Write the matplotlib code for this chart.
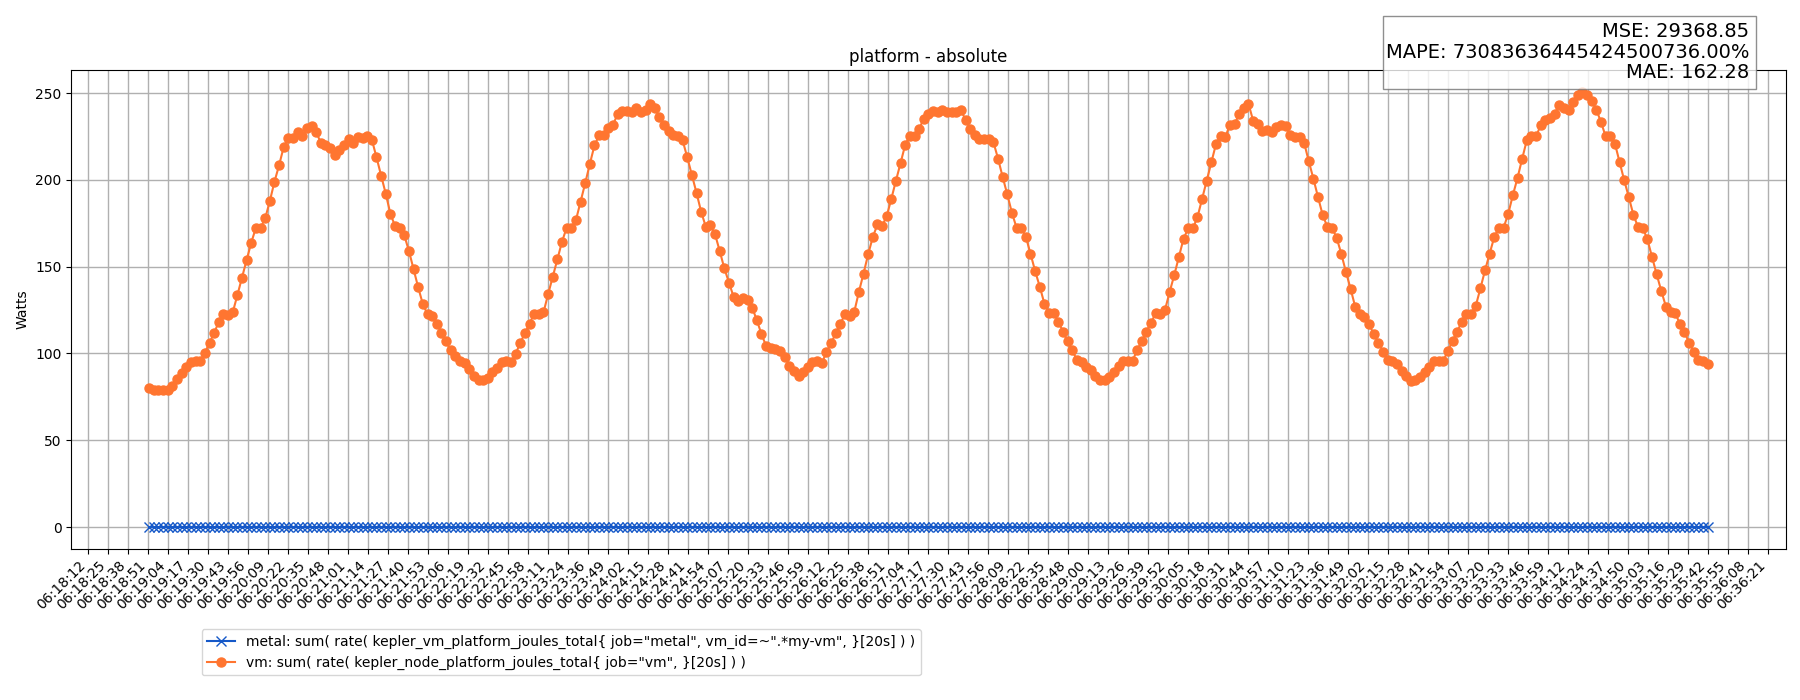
import matplotlib
matplotlib.use("Agg")
import matplotlib.pyplot as plt
import matplotlib.dates as mdates
from matplotlib.patches import Rectangle
import numpy as np
import pandas as pd

# ---------------- data ----------------
day = "2024-01-01 "
start_time = "06:18:51.6"
end_time = "06:35:41.6"

vm_values = [
    80.1, 79.0, 78.9, 78.9, 79.2, 81.5, 85.0, 88.5, 92.0, 95.0, 95.5, 95.5, 100.5, 106.0, 112.0, 118.0,
    122.6, 122.0, 123.6, 133.5, 143.7, 153.8, 163.8, 172.4, 172.4, 177.8, 187.7, 198.9, 208.4, 219.0,
    224.0, 224.0, 227.6, 225.0, 229.9, 230.8, 227.6, 221.3, 220.0, 218.4, 214.6, 217.4, 220.0, 223.8,
    221.3, 224.5, 224.1, 225.5, 223.2, 213.0, 202.5, 192.0, 180.5, 173.4, 172.4, 168.0, 159.0, 148.5,
    138.0, 128.4, 122.6, 121.6, 117.2, 112.0, 106.9, 101.9,
    98.7, 95.4, 94.3, 91.0, 87.2, 84.7, 84.7, 85.8, 89.1, 91.6, 94.8, 95.8, 94.8, 99.6, 106.3, 111.5,
    117.2, 123.0, 122.6, 123.6, 134.1, 144.1, 154.2, 164.4, 172.4, 172.4, 176.8, 187.4, 198.1, 209.2,
    219.9, 225.7, 225.7, 229.9, 231.8, 237.9, 239.5, 239.5, 238.9, 241.4, 239.1, 240.4, 243.7, 241.4,
    236.0, 231.8, 228.4, 226.1, 225.1, 222.8, 213.0, 202.7, 192.5, 181.6, 173.0, 173.9, 168.6, 159.0,
    149.0, 140.8, 132.6, 130.3, 131.8, 130.7, 126.4, 119.2, 111.1, 104.4, 103.1,
    102.5, 101.5, 98.1, 92.9, 89.7, 87.2, 89.5, 92.3, 94.8, 95.4, 94.4, 100.6, 105.9, 111.5, 117.2,
    122.6, 121.3, 123.9, 135.4, 146.0, 157.1, 167.0, 174.3, 173.4, 179.1, 189.1, 199.6, 209.8, 220.3,
    225.5, 225.1, 229.5, 235.2, 237.9, 239.5, 239.1, 240.0, 239.1, 239.1, 239.1, 240.0, 234.7, 229.5,
    226.1, 223.8, 223.8, 223.8, 221.8, 212.3, 201.7, 191.6, 181.0, 172.4, 172.4, 167.2, 157.5, 147.5,
    138.5, 128.7, 123.2, 123.2, 118.4, 112.6, 106.9, 101.9, 96.2, 94.8, 92.3,
    90.4, 87.2, 84.7, 84.7, 86.2, 89.1, 92.5, 95.8, 95.8, 95.8, 101.9, 107.3, 112.6, 117.8, 123.2,
    122.6, 125.1, 135.4, 145.2, 155.6, 166.1, 172.0, 172.0, 178.5, 189.1, 199.6, 210.3, 220.7, 225.1,
    224.7, 231.8, 232.2, 237.9, 241.4, 243.9, 234.1, 232.2, 228.0, 228.9, 227.6, 230.5, 231.8, 230.8,
    226.1, 224.7, 224.7, 221.3, 210.7, 200.6, 190.0, 179.7, 173.0, 172.4, 166.7, 157.5, 147.1, 137.4,
    127.0, 122.6, 121.1, 116.9, 111.1, 106.3, 101.1, 96.4, 95.4, 93.9, 90.0,
    87.2, 84.3, 84.7, 86.2, 89.5, 92.0, 95.4, 95.4, 95.8, 101.5, 107.3, 112.6, 118.4, 123.0, 122.6,
    127.4, 137.5, 147.9, 157.5, 167.2, 172.4, 172.4, 180.5, 191.2, 201.1, 212.1, 222.8, 225.1, 225.1,
    231.4, 234.3, 235.6, 238.1, 243.3, 241.4, 240.4, 244.8, 248.7, 250.6, 249.0, 245.6, 240.4, 233.3,
    225.1, 225.1, 220.9, 210.3, 199.8, 190.0, 179.7, 172.8, 172.4, 165.7, 155.6, 145.6, 136.0, 127.0,
    123.6, 123.2, 117.2, 112.1, 106.3, 101.1, 96.2, 95.4, 93.9,
]
metal_values = [0.0] * len(vm_values)

tick_labels = [
    "06:18:12", "06:18:25", "06:18:38", "06:18:51", "06:19:04", "06:19:17", "06:19:30", "06:19:43",
    "06:19:56", "06:20:09", "06:20:22", "06:20:35", "06:20:48", "06:21:01", "06:21:14", "06:21:27",
    "06:21:40", "06:21:53", "06:22:06", "06:22:19", "06:22:32", "06:22:45", "06:22:58", "06:23:11",
    "06:23:24", "06:23:36", "06:23:49", "06:24:02", "06:24:15", "06:24:28", "06:24:41", "06:24:54",
    "06:25:07", "06:25:20", "06:25:33", "06:25:46", "06:25:59", "06:26:12", "06:26:25", "06:26:38",
    "06:26:51", "06:27:04", "06:27:17", "06:27:30", "06:27:43", "06:27:56", "06:28:09", "06:28:22",
    "06:28:35", "06:28:48", "06:29:00", "06:29:13", "06:29:26", "06:29:39", "06:29:52", "06:30:05",
    "06:30:18", "06:30:31", "06:30:44", "06:30:57", "06:31:10", "06:31:23", "06:31:36", "06:31:49",
    "06:32:02", "06:32:15", "06:32:28", "06:32:41", "06:32:54", "06:33:07", "06:33:20", "06:33:33",
    "06:33:46", "06:33:59", "06:34:12", "06:34:24", "06:34:37", "06:34:50", "06:35:03", "06:35:16",
    "06:35:29", "06:35:42", "06:35:55", "06:36:08", "06:36:21",
]

metal_label = 'metal: sum( rate( kepler_vm_platform_joules_total{ job="metal", vm_id=~".*my-vm", }[20s] ) )'
vm_label = 'vm: sum( rate( kepler_node_platform_joules_total{ job="vm", }[20s] ) )'
metrics_text = "MSE: 29368.85\nMAPE: 73083636445424500736.00%\nMAE: 162.28"

# ---------------- plot ----------------
t0 = mdates.date2num(pd.Timestamp(day + start_time))
t1 = mdates.date2num(pd.Timestamp(day + end_time))
x = np.linspace(t0, t1, len(vm_values))

fig = plt.figure(figsize=(18, 7), dpi=100)
ax = fig.add_axes([0.0396, 0.216, 0.9524, 0.6836])

ax.plot(x, metal_values, marker="x", color="#1558c8", linewidth=1.5, markersize=6.5, label=metal_label)
ax.plot(x, vm_values, marker="o", color="#ff7530", linewidth=1.5, markersize=6.5, label=vm_label)

tk0 = mdates.date2num(pd.Timestamp(day + tick_labels[0]))
tk1 = mdates.date2num(pd.Timestamp(day + tick_labels[-1]))
ticks = np.linspace(tk0, tk1, len(tick_labels))
ax.set_xticks(ticks)
ax.set_xticklabels(tick_labels, rotation=45, ha="right", fontsize=10)
ax.grid(True, color="#b0b0b0", linewidth=1)
ax.set_axisbelow(True)
ax.set_title("platform - absolute", fontsize=12)
ax.set_ylabel("Watts", fontsize=10)

fig.legend(loc="upper left", bbox_to_anchor=(0.112, 0.1014), fontsize=10, borderaxespad=0)

# metrics box
bx0, by0 = 1382.7 / 1800, 1 - 89 / 700
bw, bh = (1756 - 1382.7) / 1800, (89 - 15.7) / 700
fig.patches.append(Rectangle((bx0, by0), bw, bh, transform=fig.transFigure,
                             facecolor="white", edgecolor="0.45", linewidth=1, alpha=0.8, zorder=10))
fig.text(1749 / 1800, 1 - 52 / 700, metrics_text, ha="right", va="center", fontsize=14,
         multialignment="right", zorder=11, linespacing=1.13)

fig.savefig("out.png", dpi=100)
